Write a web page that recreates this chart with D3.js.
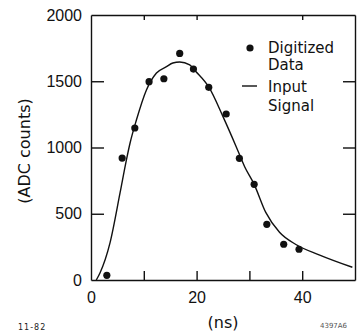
<!DOCTYPE html>
<html lang="en">
<head>
    <meta charset="UTF-8">
    <title>Digitized Data vs Input Signal</title>
    <script src="https://d3js.org/d3.v7.min.js"></script>
    <style>
        body { margin: 0; background: #fff; }
        svg { display: block; font-family: "DejaVu Sans", sans-serif; }
        .axis path, .axis line { stroke: #111; stroke-width: 1.4px; fill: none; }
        .axis text { font-size: 16px; fill: #111; }
    </style>
</head>
<body>
<svg id="chart"></svg>

<script>
    // digitized samples (ns, ADC counts)
    const sampleTimes = [3.0, 5.9, 8.3, 11.0, 13.8, 16.8, 19.4, 22.3, 25.6, 28.1, 30.9, 33.3, 36.5, 39.4];
    const sampleCounts = [35, 920, 1147, 1497, 1519, 1710, 1592, 1454, 1253, 918, 722, 420, 270, 232];

    // input signal curve
    const signalTimes = [1.0, 1.7, 3.6, 5.5, 6.7, 7.4, 8.6, 10.5, 12.4, 14.3, 15.5, 16.8, 18.7, 19.9, 22.3, 25.0, 27.5, 29.1, 30.9, 33.1, 35.7, 38.8, 43.2, 49.5];
    const signalCounts = [0, 53, 280, 657, 905, 1034, 1207, 1434, 1562, 1610, 1638, 1645, 1623, 1572, 1457, 1233, 1006, 855, 722, 510, 360, 268, 190, 96];

    const yTicks = [0, 500, 1000, 1500, 2000];
    const xTicks = [0, 10, 20, 30, 40];
    const xLabelTicks = [0, 20, 40];

    const W = 357, H = 331;
    const svg = d3.select("#chart").attr("width", W).attr("height", H);

    const x = d3.scaleLinear().domain([0, 50]).range([91, 355]);
    const y = d3.scaleLinear().domain([0, 2000]).range([280, 15]);

    // left axis, ticks pointing inward
    svg.append("g")
        .attr("class", "axis")
        .attr("transform", `translate(${x(0)},0)`)
        .call(d3.axisLeft(y).tickValues(yTicks).tickSize(-13).tickPadding(9).tickSizeOuter(0).tickFormat(d3.format("d")))
        .call(g => g.selectAll(".tick").filter(d => d === 0 || d === 2000).select("line").remove());

    // right frame with inward ticks
    svg.append("g")
        .attr("class", "axis")
        .attr("transform", `translate(${x(50)},0)`)
        .call(d3.axisRight(y).tickValues([500, 1000, 1500]).tickSize(-12).tickSizeOuter(0).tickFormat(""));

    // bottom axis
    svg.append("g")
        .attr("class", "axis")
        .attr("transform", `translate(0,${y(0)})`)
        .call(d3.axisBottom(x).tickValues(xTicks).tickSize(-9).tickPadding(12).tickSizeOuter(0)
            .tickFormat(d => xLabelTicks.includes(d) ? d : ""))
        .call(g => g.selectAll(".tick").filter(d => d === 0).select("line").remove());

    // top frame
    svg.append("g")
        .attr("class", "axis")
        .attr("transform", `translate(0,${y(2000)})`)
        .call(d3.axisTop(x).tickValues([10, 20, 40]).tickSize(-5).tickSizeOuter(0).tickFormat(""));

    // input signal line
    const line = d3.line()
        .x((d, i) => x(signalTimes[i]))
        .y((d, i) => y(signalCounts[i]))
        .curve(d3.curveMonotoneX);

    svg.append("path")
        .datum(signalCounts)
        .attr("d", line)
        .attr("fill", "none")
        .attr("stroke", "#111")
        .attr("stroke-width", 1.4);

    svg.selectAll(".dot")
        .data(sampleCounts)
        .enter().append("circle")
        .attr("class", "dot")
        .attr("cx", (d, i) => x(sampleTimes[i]))
        .attr("cy", d => y(d))
        .attr("r", 3.6)
        .attr("fill", "#111");

    // legend
    const legend = svg.append("g").style("font-size", "15px").attr("fill", "#111");
    legend.append("circle").attr("cx", 250).attr("cy", 48).attr("r", 3.6).attr("fill", "#111");
    legend.append("text").attr("x", 268).attr("y", 53).text("Digitized");
    legend.append("text").attr("x", 268).attr("y", 70).text("Data");
    legend.append("line").attr("x1", 242).attr("x2", 257).attr("y1", 86).attr("y2", 86)
        .attr("stroke", "#111").attr("stroke-width", 1.4);
    legend.append("text").attr("x", 268).attr("y", 92).text("Input");
    legend.append("text").attr("x", 268).attr("y", 111).text("Signal");

    // axis titles
    svg.append("text")
        .attr("transform", "translate(30,151) rotate(-90)")
        .attr("text-anchor", "middle")
        .style("font-size", "16px")
        .attr("fill", "#111")
        .text("(ADC counts)");

    svg.append("text")
        .attr("x", 223)
        .attr("y", 328)
        .attr("text-anchor", "middle")
        .style("font-size", "16px")
        .attr("fill", "#111")
        .text("(ns)");

    // figure marks
    svg.append("text")
        .attr("x", 18).attr("y", 330)
        .style("font-size", "8px")
        .style("letter-spacing", "1px")
        .attr("fill", "#222")
        .text("11-82");

    svg.append("text")
        .attr("x", 320).attr("y", 328)
        .style("font-size", "7px")
        .attr("fill", "#555")
        .text("4397A6");
</script>
</body>
</html>
